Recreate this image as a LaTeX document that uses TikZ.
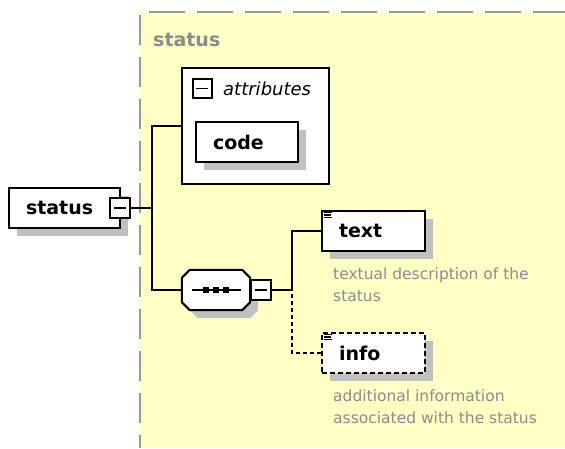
\documentclass[tikz,border=0pt]{standalone}
\usepackage{fontspec}
\setmainfont{DejaVu Sans}
\usetikzlibrary{shadows}
\definecolor{bgyellow}{RGB}{255,255,198}
\definecolor{dashgray}{RGB}{153,153,153}
\definecolor{shadowgray}{RGB}{192,192,192}
\definecolor{descgray}{RGB}{140,140,140}
\tikzset{
  shad/.style={drop shadow={shadow xshift=8pt,shadow yshift=-8pt,fill=shadowgray,opacity=1}},
  elem/.style={draw=black,fill=white,line width=2pt,minimum height=40pt,inner ysep=0pt,
    inner xsep=17pt,align=left,font=\fontsize{19}{22}\selectfont\bfseries},
  minusbox/.style={draw=black,fill=white,line width=2pt,minimum size=20pt,inner sep=0pt,
    path picture={\draw[line width=1.6pt] ([xshift=-6pt]path picture bounding box.center) -- ([xshift=6pt]path picture bounding box.center);}},
  desc/.style={anchor=north west,inner sep=0pt,align=left,text=descgray,font=\fontsize{15.5}{22}\selectfont},
  conn/.style={line width=2pt},
  optconn/.style={line width=2pt,dash pattern=on 4pt off 3pt},
}
\begin{document}
\begin{tikzpicture}[x=1pt,y=-1pt]
\useasboundingbox (0,0) rectangle (565,448);
% background region
\fill[bgyellow] (140,12) rectangle (565,448);
\draw[dashgray,line width=2pt,dash pattern=on 36pt off 12pt] (149,12) -- (565,12);
\draw[dashgray,line width=2pt,dash pattern=on 30pt off 12pt] (140,15) -- (140,448);
\node[anchor=base west,inner sep=0pt,text=descgray,font=\fontsize{19}{22}\selectfont\bfseries] (grouplabel) at (153,46) {status};

% root element
\node[elem,shad,text width=77pt] (root) at (64.5,208) {status};
\node[minusbox] (rootm) at (120,208) {};

% attributes group
\node[draw=black,fill=white,line width=2pt,minimum width=147pt,minimum height=116pt,inner sep=0pt] (attr) at (255.5,126) {};
\node[minusbox,minimum size=19pt] (attrm) at (202,88.5) {};
\node[anchor=base west,inner sep=0pt,font=\fontsize{18}{22}\selectfont\itshape] (attrlabel) at (223,95) {attributes};
\node[elem,shad,text width=68pt] (code) at (247,142) {code};

% sequence compositor
\node[minimum width=68pt,minimum height=40pt,inner sep=0pt] (seq) at (216,290) {};
\fill[shadowgray,transform canvas={shift={(8pt,-8pt)}}]
  ([xshift=8pt]seq.north west) -- ([xshift=-8pt]seq.north east) -- ([yshift=-8pt]seq.north east)
  -- ([yshift=8pt]seq.south east) -- ([xshift=-8pt]seq.south east) -- ([xshift=8pt]seq.south west)
  -- ([yshift=8pt]seq.south west) -- ([yshift=-8pt]seq.north west) -- cycle;
\filldraw[fill=white,draw=black,line width=2pt]
  ([xshift=8pt]seq.north west) -- ([xshift=-8pt]seq.north east) -- ([yshift=-8pt]seq.north east)
  -- ([yshift=8pt]seq.south east) -- ([xshift=-8pt]seq.south east) -- ([xshift=8pt]seq.south west)
  -- ([yshift=8pt]seq.south west) -- ([yshift=-8pt]seq.north west) -- cycle;
\draw[line width=1.6pt] ([xshift=-24.5pt]seq.center) -- ([xshift=24.5pt]seq.center);
\foreach \dx in {-10,0,10}{
  \fill ([xshift=\dx pt-3pt,yshift=-3pt]seq.center) rectangle ([xshift=\dx pt+3pt,yshift=3pt]seq.center);
}
\node[minusbox] (seqm) at (260.5,290) {};

% child elements
\node[elem,shad,text width=69pt] (text) at (373.5,231) {text};
\node[elem,shad,text width=69pt,dash pattern=on 5pt off 3pt] (info) at (373.5,353) {info};
\foreach \n in {text,info}{
  \foreach \dy/\len in {2.5/8,5/7,7.5/8}{
    \draw[line width=1.2pt] ([xshift=3pt,yshift=-\dy pt]\n.north west) -- ++(\len,0);
  }
}
\node[desc] (textdesc) at (333,268) {textual description of the\\status};
\node[desc] (infodesc) at (333,390) {additional information\\associated with the status};

% connectors
\coordinate (j1) at (152,208);
\coordinate (j2) at (292,290);
\draw[conn] (rootm.east) -- (j1);
\draw[conn] (attr.west) -| (j1);
\draw[conn] (seq.west) -| (j1);
\draw[conn] (seqm.east) -- (j2);
\draw[conn] (text.west) -| (j2);
\draw[optconn] (info.west) -| (j2);
\end{tikzpicture}
\end{document}
